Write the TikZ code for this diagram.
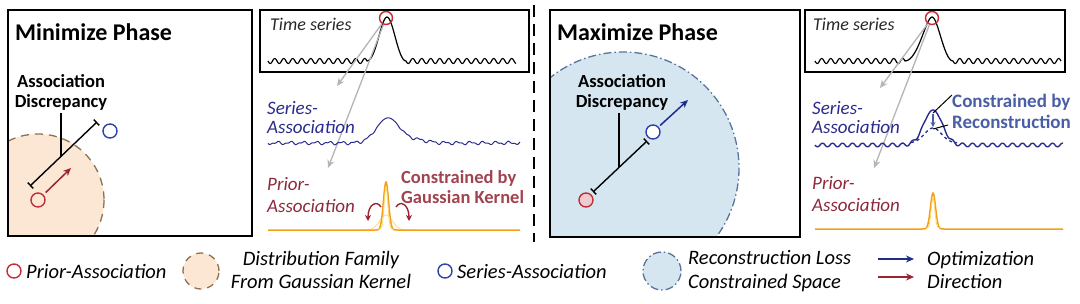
\documentclass[tikz,border=0pt]{standalone}
\usepackage{fontspec}
\setmainfont{Carlito}
\usetikzlibrary{arrows.meta}
\definecolor{navy}{HTML}{2A2C8C}
\definecolor{priortxt}{HTML}{8C2A3C}
\definecolor{priorred}{HTML}{C0303A}
\definecolor{seriesblue}{HTML}{2E42AA}
\definecolor{peach}{HTML}{FCE7D5}
\definecolor{peachdash}{HTML}{8E7150}
\definecolor{skyfill}{HTML}{D5E6F1}
\definecolor{skydash}{HTML}{5A739C}
\definecolor{orangec}{HTML}{F5A01A}
\definecolor{yellowc}{HTML}{FFD75E}
\definecolor{gausstxt}{HTML}{A1434F}
\definecolor{recontxt}{HTML}{4A5EA6}
\definecolor{arrblue}{HTML}{1E2C8A}
\definecolor{arrred}{HTML}{9A2433}
\definecolor{greyarr}{HTML}{B4B4B4}
\begin{document}
\begin{tikzpicture}[x=1pt,y=-1pt,
  declare function={gq(\za,\zb)=min(abs(\za)/\zb,6); gs(\za,\zb)=exp(-gq(\za,\zb)*gq(\za,\zb));},
  panelbox/.style={draw=black,line width=1.6pt},
  tsbox/.style={draw=black,line width=1.3pt},
  titletxt/.style={font=\bfseries\fontsize{24}{28}\selectfont,anchor=base west,inner sep=0pt},
  adlab/.style={font=\bfseries\fontsize{18.5}{20}\selectfont,align=center,inner sep=3pt},
  pl/.style={font=\itshape\fontsize{19}{22}\selectfont,anchor=base west,inner sep=0pt},
  tslab/.style={font=\itshape\fontsize{18}{22}\selectfont,anchor=base west,inner sep=0pt,text=black!85},
  legtxt/.style={font=\itshape\fontsize{20.5}{23.5}\selectfont,inner sep=0pt},
  priorc/.style={circle,draw=priorred,line width=1.4pt,minimum size=14pt,inner sep=0pt},
  seriesc/.style={circle,draw=seriesblue,line width=1.4pt,minimum size=14pt,inner sep=0pt},
  peakc/.style={circle,draw=priorred!90!red,line width=1.4pt,minimum size=13pt,inner sep=0pt},
  disc/.style={line width=1.4pt,{Bar[width=8pt,line width=1.4pt]}-{Bar[width=8pt,line width=1.4pt]}},
  redarrow/.style={draw=arrred,line width=1.5pt,-{Stealth[length=8pt,width=7pt]}},
  bluearrow/.style={draw=arrblue,line width=1.5pt,-{Stealth[length=8pt,width=7pt]}},
  greyarrow/.style={draw=greyarr,line width=1.3pt,-{Stealth[length=8pt,width=7pt]}},
  tsline/.style={draw=black,line width=1.2pt,line join=round},
  serline/.style={draw=navy,line width=1.0pt},
  priline/.style={draw=orangec,line width=1.5pt},
  famdash/.style={draw=peachdash,line width=1.3pt,dash pattern=on 8pt off 6pt},
  recdash/.style={draw=skydash,line width=1.3pt,dash pattern=on 8pt off 3pt on 1.5pt off 3pt},
]
\useasboundingbox (0,0) rectangle (1080,303);

% ================= MINIMIZE =================
\begin{scope}
  \clip (8,10) rectangle (252,236);
  \fill[peach] (38,200) circle (66);
  \draw[famdash] (38,200) circle (66);
\end{scope}
\draw[panelbox] (8,10) rectangle (252,236);
\node[titletxt] (mintitle) at (15,40) {Minimize Phase};
\node[adlab] (adl1) at (61,92) {Association\\Discrepancy};
\node[priorc,fill=peach] (pr1) at (38,200) {};
\node[seriesc,fill=white] (se1) at (110,131) {};
\coordinate (d1a) at (30,186);
\coordinate (d1b) at (97,122);
\draw[disc] (d1a) -- (d1b);
\coordinate (dm1) at (61,157);
\draw[line width=1.3pt] (adl1.south) -- (dm1);
\coordinate (ra1) at (71,168);
\draw[redarrow,shorten <=3pt] (pr1) -- (ra1);

% time series (min)
\draw[tsbox] (260,10) rectangle (529,72);
\node[tslab] (ts1) at (270,30) {Time series};
\draw[tsline] plot[domain=0:99,samples=200] ({268+\x},{61+2.5*sin(40*\x)})
  .. controls (376,61) and (381,17) .. (387,17)
  .. controls (393,17) and (398,61) .. (406,61)
  -- plot[domain=0:110,samples=220] ({406+\x},{61+2.5*sin(40*\x)});
\node[peakc] (pk1) at (386,18) {};
\coordinate (ga1) at (337,86);
\coordinate (gb1) at (328,168);
\draw[greyarrow] (pk1) -- (ga1);
\draw[greyarrow] (pk1) -- (gb1);

\node[pl,text=navy] (s1a) at (267,114) {Series-};
\node[pl,text=navy] (s1b) at (267,133) {Association};
\draw[serline] plot[domain=0:252,samples=500] ({268+\x},{143+(1.2*sin(28*\x)+0.7*sin(55*\x+30))*(1-gs(\x-120,16))-25*gs(\x-120,16)-3*gs(\x-148,16)});

\node[pl,text=priortxt] (p1a) at (267,190) {Prior-};
\node[pl,text=priortxt] (p1b) at (267,212) {Association};
\draw[draw=yellowc!80!orange,line width=0.8pt,opacity=0.7] plot[domain=88:148,samples=120] ({268+\x},{230-15*gs(\x-118,9)});
\draw[priline] plot[domain=0:252,samples=500] ({268+\x},{230-48*gs(\x-118,3.6)});
\draw[draw=yellowc,line width=0.8pt] plot[domain=110:126,samples=80] ({268+\x},{229-42*gs(\x-118,2.6)});
\coordinate (k1s) at (381,207);
\coordinate (k1e) at (368,221);
\coordinate (k2s) at (396,207);
\coordinate (k2e) at (409,221);
\draw[draw=arrred,line width=1.4pt,-{Stealth[length=6pt,width=6pt]}] (k1s) .. controls (377,200) and (368,204) .. (k1e);
\draw[draw=arrred,line width=1.4pt,-{Stealth[length=6pt,width=6pt]}] (k2s) .. controls (400,200) and (409,204) .. (k2e);
\node[font=\bfseries\fontsize{18.5}{20.5}\selectfont,text=gausstxt,align=left,inner sep=0pt,anchor=west] (gk) at (401,187) {Constrained by\\Gaussian Kernel};

% separator
\coordinate (sepT) at (534,5);
\coordinate (sepB) at (534,242);
\draw[line width=2.5pt,dash pattern=on 12pt off 7pt] (sepT) -- (sepB);

% ================= MAXIMIZE =================
\begin{scope}
  \clip (550,10) rectangle (800,237);
  \fill[skyfill] (623,168) circle (116);
  \draw[recdash] (623,168) circle (116);
\end{scope}
\draw[panelbox] (550,10) rectangle (800,237);
\node[titletxt] (maxtitle) at (557,40) {Maximize Phase};
\node[adlab] (adl2) at (622,92) {Association\\Discrepancy};
\node[priorc,fill=priorred!25!white] (pr2) at (586,200) {};
\node[seriesc,fill=white] (se2) at (653,132) {};
\coordinate (d2a) at (593,192);
\coordinate (d2b) at (647,141);
\draw[disc] (d2a) -- (d2b);
\coordinate (dm2) at (619,167);
\draw[line width=1.3pt] (adl2.south -| dm2) -- (dm2);
\coordinate (ba2) at (688,100);
\draw[bluearrow,shorten <=2pt] (se2) -- (ba2);

% time series (max)
\draw[tsbox] (805,10) rectangle (1065,72);
\node[tslab] (ts2) at (813,30) {Time series};
\draw[tsline] plot[domain=0:90,samples=180] ({815+\x},{61+2.5*sin(40*\x)})
  .. controls (918,61) and (926,17) .. (932,17)
  .. controls (938,17) and (944,61) .. (953,61)
  -- plot[domain=0:108,samples=220] ({953+\x},{61+2.5*sin(40*\x)});
\node[peakc] (pk2) at (932,18) {};
\coordinate (ga2) at (880,88);
\coordinate (gb2) at (874,168);
\draw[greyarrow] (pk2) -- (ga2);
\draw[greyarrow] (pk2) -- (gb2);

\node[pl,text=navy] (s2a) at (812,114) {Series-};
\node[pl,text=navy] (s2b) at (812,133) {Association};
\draw[draw=navy,line width=1.4pt] plot[domain=0:248,samples=500] ({815+\x},{145+1.8*sin(36*\x)*(1-gs(\x-118,13))-35*gs(\x-118,13)});
\draw[draw=navy,line width=1.3pt,dashed] plot[domain=96:142,samples=80] ({815+\x},{143-15*gs(\x-118,12)});
\coordinate (ca) at (933,114);
\coordinate (cb) at (933,127);
\draw[draw=recontxt,line width=1.3pt,-{Stealth[length=5pt,width=5pt]}] (ca) -- (cb);
\coordinate (cl1) at (952,95);
\coordinate (cl2) at (933,113);
\draw[line width=1pt] (cl1) -- (cl2);
\coordinate (cl3) at (933,129);
\coordinate (cl4) at (948,125);
\draw[line width=1pt] (cl3) -- (cl4);
\node[font=\bfseries\fontsize{19}{21}\selectfont,text=recontxt,align=left,inner sep=0pt,anchor=west] (rc) at (952,111) {Constrained by\\Reconstruction};

\node[pl,text=priortxt] (p2a) at (812,189) {Prior-};
\node[pl,text=priortxt] (p2b) at (812,211) {Association};
\draw[priline] plot[domain=0:248,samples=500] ({815+\x},{229-36*gs(\x-118,3.6)});
\draw[draw=yellowc,line width=0.8pt] plot[domain=111:125,samples=60] ({815+\x},{228-30*gs(\x-118,2.6)});

% ================= LEGEND =================
\node[priorc,fill=white] (lp) at (14,271) {};
\node[legtxt,anchor=base west] (lpt) at (26,278) {Prior-Association};
\node[circle,minimum size=36pt,inner sep=0pt,fill=peach,famdash,dash pattern=on 7pt off 6pt] (lf) at (201,271) {};
\node[legtxt,align=center,anchor=center] (lft) at (321,270) {Distribution Family\\From Gaussian Kernel};
\node[seriesc,fill=white] (ls) at (445,271) {};
\node[legtxt,anchor=base west] (lst) at (457,278) {Series-Association};
\node[circle,minimum size=38pt,inner sep=0pt,fill=skyfill,recdash] (lr) at (662,271) {};
\node[legtxt,align=left,anchor=west] (lrt) at (688,271) {Reconstruction Loss\\Constrained Space};
\coordinate (lb1) at (878,259);
\coordinate (lb2) at (914,259);
\coordinate (lr1) at (878,277);
\coordinate (lr2) at (914,277);
\draw[bluearrow] (lb1) -- (lb2);
\draw[redarrow] (lr1) -- (lr2);
\node[legtxt,align=left,anchor=west] (lot) at (927,270) {Optimization\\Direction};
\end{tikzpicture}
\end{document}
